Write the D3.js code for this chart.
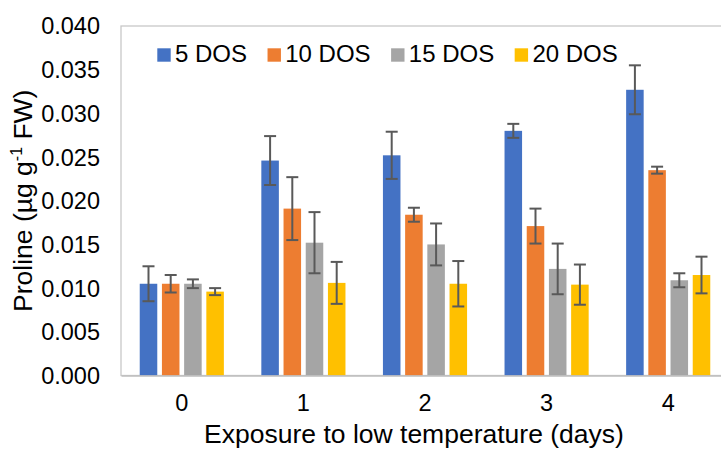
<!DOCTYPE html>
<html>
<head>
<meta charset="utf-8">
<script src="https://cdn.jsdelivr.net/npm/d3@7"></script>
<style>
  body { margin: 0; background: #fff; }
  svg { display: block; font-family: "Liberation Sans", Arial, sans-serif; }
</style>
</head>
<body>
<svg id="chartSVG" width="721" height="449"></svg>
<script>
const days = ["0", "1", "2", "3", "4"];
const seriesNames = ["5 DOS", "10 DOS", "15 DOS", "20 DOS"];
const seriesColors = ["#4472C4", "#ED7D31", "#A5A5A5", "#FFC000"];

const dos5 = [0.0105, 0.0246, 0.0252, 0.0280, 0.0327];
const dos5Err = [0.0020, 0.0028, 0.0027, 0.0008, 0.0028];
const dos10 = [0.0105, 0.0191, 0.0184, 0.0171, 0.0235];
const dos10Err = [0.0010, 0.0036, 0.0008, 0.0020, 0.0004];
const dos15 = [0.0105, 0.0152, 0.0150, 0.0122, 0.0109];
const dos15Err = [0.0005, 0.0035, 0.0024, 0.0029, 0.0008];
const dos20 = [0.0096, 0.0106, 0.0105, 0.0104, 0.0115];
const dos20Err = [0.0004, 0.0024, 0.0026, 0.0023, 0.0021];

const yTicks = [0, 0.005, 0.01, 0.015, 0.02, 0.025, 0.03, 0.035, 0.04];

const allValues = [dos5, dos10, dos15, dos20];
const allErrors = [dos5Err, dos10Err, dos15Err, dos20Err];

// flat list of bars
const barData = [];
days.forEach((day, i) => {
  seriesNames.forEach((name, s) => {
    barData.push({ day: day, series: name, value: allValues[s][i], err: allErrors[s][i], color: seriesColors[s] });
  });
});

const plotLeft = 121;
const plotTop = 26;
const plotBottom = 375.5;
const plotRight = 729;

const xScale = d3.scaleBand().range([plotLeft, plotRight]).domain(days).padding(0);
const groupWidth = 88.8;
const xInner = d3
  .scaleBand()
  .range([0, groupWidth])
  .domain(seriesNames)
  .paddingInner(0.21)
  .paddingOuter(0.105);

const yScale = d3.scaleLinear().range([plotBottom, plotTop]).domain([0, 0.04]);

const svg = d3.select("#chartSVG");

// plot frame
svg
  .append("rect")
  .attr("x", plotLeft)
  .attr("y", plotTop)
  .attr("width", plotRight - plotLeft)
  .attr("height", plotBottom - plotTop)
  .attr("fill", "none")
  .attr("stroke", "#C8C8C8")
  .attr("stroke-width", 1.3);

const groupOffset = (d) => xScale(d.day) + xScale.bandwidth() / 2 - groupWidth / 2;

// bars
svg
  .selectAll(".bar")
  .data(barData)
  .enter()
  .append("rect")
  .classed("bar", true)
  .attr("x", (d) => groupOffset(d) + xInner(d.series))
  .attr("y", (d) => yScale(d.value))
  .attr("width", xInner.bandwidth())
  .attr("height", (d) => plotBottom - yScale(d.value))
  .attr("fill", (d) => d.color);

// x axis line
svg
  .append("g")
  .attr("transform", `translate(0,${plotBottom})`)
  .call(d3.axisBottom(xScale).tickSize(0).tickPadding(19))
  .call((g) => g.select(".domain").attr("stroke", "#BFBFBF").attr("stroke-width", 1.6))
  .call((g) => g.selectAll("text").attr("font-size", 23.5).attr("fill", "#000").attr("font-family", null));

// error bars
const errColor = "#595959";
const capHalf = 6;
const errGroup = svg.append("g").attr("stroke", errColor).attr("stroke-width", 2);
const barCenter = (d) => groupOffset(d) + xInner(d.series) + xInner.bandwidth() / 2;

errGroup
  .selectAll(".errLine")
  .data(barData)
  .enter()
  .append("line")
  .attr("x1", barCenter)
  .attr("x2", barCenter)
  .attr("y1", (d) => yScale(d.value + d.err))
  .attr("y2", (d) => yScale(d.value - d.err));

errGroup
  .selectAll(".capTop")
  .data(barData)
  .enter()
  .append("line")
  .attr("x1", (d) => barCenter(d) - capHalf)
  .attr("x2", (d) => barCenter(d) + capHalf)
  .attr("y1", (d) => yScale(d.value + d.err))
  .attr("y2", (d) => yScale(d.value + d.err));

errGroup
  .selectAll(".capBottom")
  .data(barData)
  .enter()
  .append("line")
  .attr("x1", (d) => barCenter(d) - capHalf)
  .attr("x2", (d) => barCenter(d) + capHalf)
  .attr("y1", (d) => yScale(d.value - d.err))
  .attr("y2", (d) => yScale(d.value - d.err));

// y tick labels
svg
  .selectAll(".yLabel")
  .data(yTicks)
  .enter()
  .append("text")
  .attr("x", 100)
  .attr("y", (t) => yScale(t))
  .attr("dy", "0.36em")
  .attr("text-anchor", "end")
  .attr("font-size", 23.5)
  .text((t) => d3.format(".3f")(t));

// y title
const yTitle = svg
  .append("text")
  .attr("transform", `translate(32,${(plotTop + plotBottom) / 2}) rotate(-90)`)
  .attr("text-anchor", "middle")
  .attr("font-size", 26.5);
yTitle.append("tspan").text("Proline (µg g");
yTitle.append("tspan").attr("font-size", 16).attr("dy", -10).text("-1");
yTitle.append("tspan").attr("dy", 10).text(" FW)");

// x title (kept just inside the bottom edge)
svg
  .append("text")
  .attr("x", 414)
  .attr("y", 442.5)
  .attr("text-anchor", "middle")
  .attr("font-size", 26.5)
  .text("Exposure to low temperature (days)");

// legend
const legend = svg.append("g");
let legendX = 157.3;
seriesNames.forEach((name, s) => {
  legend
    .append("rect")
    .attr("x", legendX)
    .attr("y", 48.3)
    .attr("width", 13.4)
    .attr("height", 13.4)
    .attr("fill", seriesColors[s]);
  const label = legend
    .append("text")
    .attr("x", legendX + 17.7)
    .attr("y", 61.7)
    .attr("font-size", 24)
    .text(name);
  legendX += 17.7 + label.node().getComputedTextLength() + 20.5;
});
</script>
</body>
</html>
